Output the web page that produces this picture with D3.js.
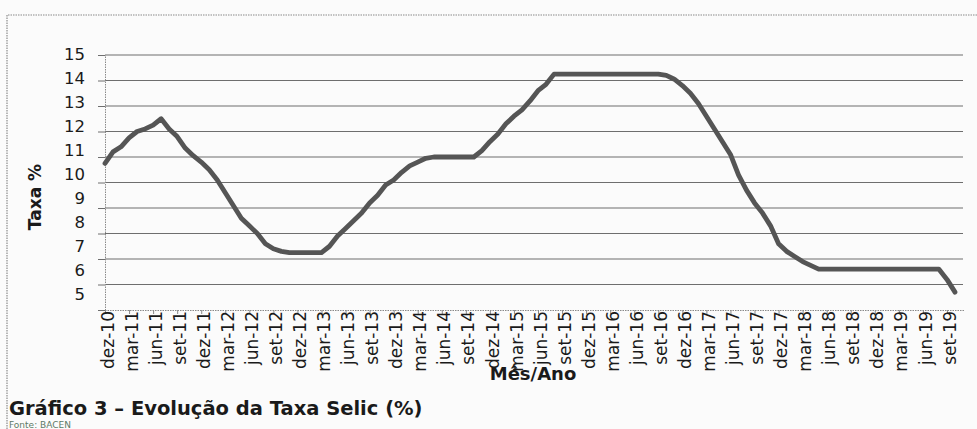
<!DOCTYPE html>
<html>
<head>
<meta charset="utf-8">
<script src="https://cdn.jsdelivr.net/npm/d3@7"></script>
<style>
  body { margin: 0; background: #fbfbfb; }
  svg { display: block; }
</style>
</head>
<body>
<div class="canvas"></div>
<script>
const meses = [
  'dez-10',
  'jan-11','fev-11','mar-11','abr-11','mai-11','jun-11','jul-11','ago-11','set-11','out-11','nov-11','dez-11',
  'jan-12','fev-12','mar-12','abr-12','mai-12','jun-12','jul-12','ago-12','set-12','out-12','nov-12','dez-12',
  'jan-13','fev-13','mar-13','abr-13','mai-13','jun-13','jul-13','ago-13','set-13','out-13','nov-13','dez-13',
  'jan-14','fev-14','mar-14','abr-14','mai-14','jun-14','jul-14','ago-14','set-14','out-14','nov-14','dez-14',
  'jan-15','fev-15','mar-15','abr-15','mai-15','jun-15','jul-15','ago-15','set-15','out-15','nov-15','dez-15',
  'jan-16','fev-16','mar-16','abr-16','mai-16','jun-16','jul-16','ago-16','set-16','out-16','nov-16','dez-16',
  'jan-17','fev-17','mar-17','abr-17','mai-17','jun-17','jul-17','ago-17','set-17','out-17','nov-17','dez-17',
  'jan-18','fev-18','mar-18','abr-18','mai-18','jun-18','jul-18','ago-18','set-18','out-18','nov-18','dez-18',
  'jan-19','fev-19','mar-19','abr-19','mai-19','jun-19','jul-19','ago-19','set-19','out-19','nov-19'
];

// taxa selic (%)
const selic = [
  10.75,
  11.2, 11.4, 11.75, 12.0, 12.1, 12.25, 12.5, 12.1, 11.8, 11.35, 11.05, 10.8,
  10.5, 10.1, 9.6, 9.1, 8.6, 8.3, 8.0, 7.6, 7.4, 7.3, 7.25, 7.25,
  7.25, 7.25, 7.25, 7.5, 7.9, 8.2, 8.5, 8.8, 9.2, 9.5, 9.9, 10.1,
  10.4, 10.65, 10.8, 10.95, 11.0, 11.0, 11.0, 11.0, 11.0, 11.0, 11.25, 11.6,
  11.9, 12.3, 12.6, 12.85, 13.2, 13.6, 13.85, 14.25, 14.25, 14.25, 14.25, 14.25,
  14.25, 14.25, 14.25, 14.25, 14.25, 14.25, 14.25, 14.25, 14.25, 14.2, 14.05, 13.8,
  13.5, 13.1, 12.6, 12.1, 11.6, 11.1, 10.3, 9.7, 9.2, 8.8, 8.3, 7.6,
  7.3, 7.1, 6.9, 6.75, 6.6, 6.6, 6.6, 6.6, 6.6, 6.6, 6.6, 6.6,
  6.6, 6.6, 6.6, 6.6, 6.6, 6.6, 6.6, 6.6, 6.2, 5.7
];

const yTicks = [5, 6, 7, 8, 9, 10, 11, 12, 13, 14, 15];
const xTickLabels = [
  'dez-10','mar-11','jun-11','set-11','dez-11','mar-12','jun-12','set-12','dez-12',
  'mar-13','jun-13','set-13','dez-13','mar-14','jun-14','set-14','dez-14','mar-15',
  'jun-15','set-15','dez-15','mar-16','jun-16','set-16','dez-16','mar-17','jun-17',
  'set-17','dez-17','mar-18','jun-18','set-18','dez-18','mar-19','jun-19','set-19'
];

const dims = { width: 977, height: 429 };
const plot = { left: 105, right: 963, top: 55, bottom: 310 };

const svg = d3.select('.canvas')
  .append('svg')
  .attr('width', dims.width)
  .attr('height', dims.height);

// moldura pontilhada
svg.append('path')
  .attr('d', `M7,${dims.height} V15 H${dims.width}`)
  .attr('fill', 'none')
  .attr('stroke', '#8a8a8a')
  .attr('stroke-width', 1.2)
  .attr('stroke-dasharray', '1.5,1');

const x = d3.scalePoint()
  .domain(meses)
  .range([plot.left, plot.right]);

const y = d3.scaleLinear()
  .domain([5, 15])
  .range([plot.bottom, plot.top]);

// no original digitalizado os rotulos ficam um pouco mais juntos que a grade
const yLabel = d3.scaleLinear()
  .domain([5, 15])
  .range([294, 54]);

// linhas de grade
svg.append('g')
  .selectAll('line')
  .data(yTicks.filter(d => d > 5))
  .enter()
  .append('line')
    .attr('x1', plot.left)
    .attr('x2', plot.right)
    .attr('y1', d => y(d))
    .attr('y2', d => y(d))
    .attr('stroke', '#6e6e6e')
    .attr('stroke-width', 1.1);

// eixo y
const yAxis = d3.axisLeft(y)
  .tickValues(yTicks)
  .tickSize(7)
  .tickPadding(13);

const yAxisGroup = svg.append('g')
  .attr('transform', `translate(${plot.left},0)`)
  .call(yAxis);

yAxisGroup.select('.domain')
  .attr('stroke', '#8a8a8a')
  .attr('stroke-dasharray', '1.5,1');
yAxisGroup.selectAll('.tick line').attr('stroke', '#6e6e6e');
yAxisGroup.selectAll('text')
  .attr('transform', d => `translate(0,${yLabel(d) - y(d)})`)
  .attr('font-family', 'DejaVu Sans')
  .attr('font-size', 16.5)
  .attr('fill', '#1a1a1a');

// eixo x
const xAxis = d3.axisBottom(x)
  .tickValues(xTickLabels)
  .tickSize(4)
  .tickSizeOuter(0);

const xAxisGroup = svg.append('g')
  .attr('transform', `translate(0,${plot.bottom})`)
  .call(xAxis);

xAxisGroup.select('.domain')
  .attr('d', `M${plot.left},0.5H${plot.right + 2}`)
  .attr('stroke', '#8a8a8a')
  .attr('stroke-dasharray', '1.5,1');
xAxisGroup.selectAll('.tick line').attr('stroke', '#8a8a8a');
xAxisGroup.selectAll('text')
  .attr('transform', 'translate(2,1) rotate(-90)')
  .attr('x', 0)
  .attr('y', 0)
  .attr('dy', '0.36em')
  .attr('text-anchor', 'end')
  .attr('font-family', 'DejaVu Sans')
  .attr('font-size', 17)
  .attr('fill', '#1a1a1a');

// linha da selic
const line = d3.line()
  .x((d, i) => x(meses[i]))
  .y(d => y(d));

svg.append('path')
  .datum(selic)
  .attr('d', line)
  .attr('fill', 'none')
  .attr('stroke', '#555555')
  .attr('stroke-width', 4.8)
  .attr('stroke-linejoin', 'round')
  .attr('stroke-linecap', 'round');

// titulos
svg.append('text')
  .attr('transform', 'translate(41,197) rotate(-90)')
  .attr('text-anchor', 'middle')
  .attr('font-family', 'DejaVu Sans')
  .attr('font-weight', 'bold')
  .attr('font-size', 17)
  .attr('fill', '#1a1a1a')
  .text('Taxa %');

svg.append('text')
  .attr('x', 533)
  .attr('y', 380)
  .attr('text-anchor', 'middle')
  .attr('font-family', 'DejaVu Sans')
  .attr('font-weight', 'bold')
  .attr('font-size', 18)
  .attr('fill', '#1a1a1a')
  .text('Mês/Ano');

svg.append('text')
  .attr('x', 9)
  .attr('y', 415)
  .attr('font-family', 'DejaVu Sans')
  .attr('font-weight', 'bold')
  .attr('font-size', 19.5)
  .attr('fill', '#1a1a1a')
  .text('Gráfico 3 – Evolução da Taxa Selic (%)');

svg.append('text')
  .attr('x', 9)
  .attr('y', 428)
  .attr('font-family', 'DejaVu Sans')
  .attr('font-size', 9)
  .attr('fill', '#5d7a66')
  .text('Fonte: BACEN');
</script>
</body>
</html>
